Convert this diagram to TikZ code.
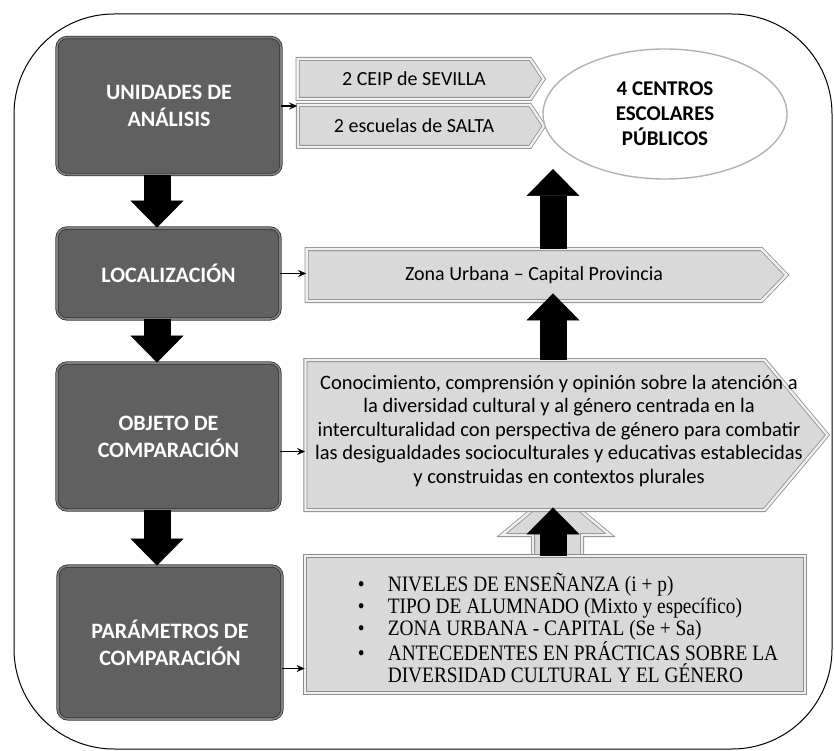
\documentclass[tikz,border=0pt]{standalone}
\usepackage{fontspec}
\setmainfont{Carlito}
\newfontfamily\listfont[FakeStretch=0.88]{Liberation Serif}
\usetikzlibrary{positioning,shapes.symbols,shapes.geometric,arrows.meta}

\definecolor{darkfill}{RGB}{96,96,96}
\definecolor{lightfill}{RGB}{217,217,217}

\newcommand{\itembul}{\makebox[30pt][l]{\textbullet}}
\newcommand{\itemgap}{\hspace*{30pt}}

\tikzset{
    darkbox/.style={draw=black!80, double=black!50, double distance=1.6pt, line width=0.8pt,
        fill=darkfill, rounded corners=10pt, text=white, align=center,
        font=\bfseries\fontsize{22}{27}\selectfont},
    lightrim/.style={draw=black!45, double=black!6, double distance=2.4pt, line width=0.8pt,
        fill=lightfill},
    lightsig/.style={lightrim, shape=signal, signal to=east, align=center, inner sep=0pt,
        font=\fontsize{20}{23.5}\selectfont},
    blockarrow/.style={line width=27pt, -{Triangle[width=53pt, length=27pt, line width=0.5pt]}},
    thinarrow/.style={line width=1.2pt, -{Stealth[length=8pt, width=7pt]}},
    sigtext/.style={align=center, font=\fontsize{20.5}{23.5}\selectfont},
    listtext/.style={align=left, font=\listfont\fontsize{22}{22}\selectfont}
}

\begin{document}
\begin{tikzpicture}[x=1pt, y=-1pt]

    \useasboundingbox (0,0) rectangle (834,751);

    %% Frame
    \draw[line width=1pt, rounded corners=100pt] (14,14) rectangle (832,749);

    %% Left column

    % Dark boxes
    \node[darkbox, minimum width=224pt, minimum height=137pt] (unidades) at (169,106) {UNIDADES DE\\ANÁLISIS};
    \node[darkbox, minimum width=223pt, minimum height=91pt] (localiza) at (168.5,273.5) {LOCALIZACIÓN};
    \node[darkbox, minimum width=223pt, minimum height=147pt] (objeto) at (168.5,436.5) {OBJETO DE\\COMPARACIÓN};
    \node[darkbox, minimum width=224pt, minimum height=153pt] (params) at (170,642.5) {PARÁMETROS DE\\COMPARACIÓN};

    % Down arrows
    \coordinate (leftcol) at (157,0);
    \draw[blockarrow] (unidades.south -| leftcol) -- (localiza.north -| leftcol);
    \draw[blockarrow] (localiza.south -| leftcol) -- (objeto.north -| leftcol);
    \draw[blockarrow] (objeto.south -| leftcol) -- (params.north -| leftcol);

    %% Right column

    % Hollow arrow behind the bullet box
    \draw[lightrim] (533,560) -- (533,535) -- (502,535) -- (556,490) -- (610,535) -- (582,535) -- (582,560);

    % Signal boxes
    \node[lightsig, signal pointer angle=113, minimum width=246pt, minimum height=40pt] (sevilla) at (414,79) {2 CEIP de SEVILLA};
    \node[lightsig, signal pointer angle=113, minimum width=246pt, minimum height=42pt] (salta) at (414,126) {2 escuelas de SALTA};
    \node[lightsig, signal pointer angle=92, minimum width=480pt, minimum height=52pt] (zona) at (534,275) {Zona Urbana -- Capital Provincia};
    \node[lightsig, signal pointer angle=100, minimum width=522pt, minimum height=150pt] (conoc) at (535,435) {};
    \node[sigtext] (conoctext) at (559,431)
        {Conocimiento, comprensión y opinión sobre la atención a\\
         la diversidad cultural y al género centrada en la\\
         interculturalidad con perspectiva de género para combatir\\
         las desigualdades socioculturales y educativas establecidas\\
         y construidas en contextos plurales};

    % Bullet box
    \node[lightrim, minimum width=500pt, minimum height=137pt] (bullets) at (555,624.5) {};
    \node[listtext] (bulltext) at (568,628) {\lineskiplimit=-20pt\relax
        \itembul NIVELES DE ENSEÑANZA (i + p)\\
        \itembul TIPO DE ALUMNADO (Mixto y específico)\\
        \itembul ZONA URBANA - CAPITAL (Se + Sa)\\
        \itembul ANTECEDENTES EN PRÁCTICAS SOBRE LA\\
        \itemgap DIVERSIDAD CULTURAL Y EL GÉNERO};

    % Ellipse
    \node[ellipse, draw=black!30, line width=1.4pt, fill=white, minimum width=244pt, minimum height=130pt,
          align=center, font=\bfseries\fontsize{21}{25}\selectfont] (centros) at (665,114) {4 CENTROS\\ESCOLARES\\PÚBLICOS};

    % Up arrows
    \coordinate (upcol) at (553,0);
    \coordinate (centrosin) at (553,169);
    \draw[blockarrow] (zona.north -| upcol) -- (centrosin);
    \draw[blockarrow, shorten >=-8pt] (conoc.north -| upcol) -- (zona.south -| upcol);
    \draw[blockarrow, shorten >=-3pt] (bullets.north -| upcol) -- (conoc.south -| upcol);

    % Thin arrows
    \draw[thinarrow] (unidades.east) -- (unidades.east -| sevilla.west);
    \draw[thinarrow] (localiza.east) -- (localiza.east -| zona.west);
    \draw[thinarrow] ([yshift=-15pt]objeto.east) -- ([yshift=-15pt]objeto.east -| conoc.west);
    \draw[thinarrow] ([yshift=-26pt]params.east) -- ([yshift=-26pt]params.east -| bullets.west);

\end{tikzpicture}
\end{document}
